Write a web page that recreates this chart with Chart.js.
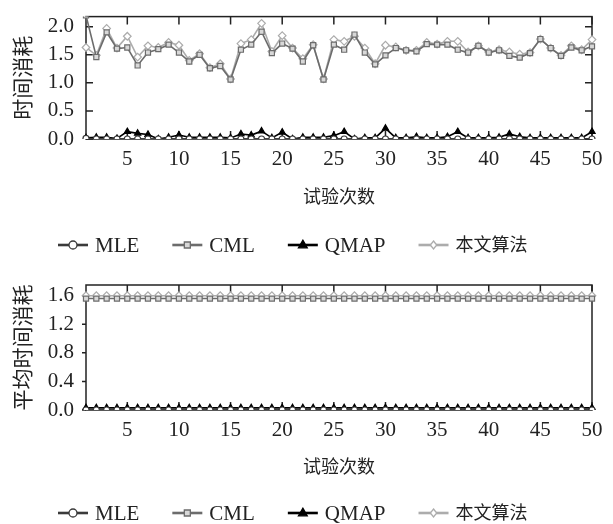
<!DOCTYPE html>
<html>
<head>
<meta charset="utf-8">
<script src="https://cdn.jsdelivr.net/npm/chart.js@4.4.1/dist/chart.umd.min.js"></script>
<style>
  html, body { margin: 0; padding: 0; background: #fff; }
  canvas { display: block; }
</style>
</head>
<body>
<canvas id="timeChart" width="613" height="262"></canvas>
<canvas id="avgChart" width="613" height="262"></canvas>
<script>
// trial index (x axis)
const trials = [1,2,3,4,5,6,7,8,9,10,11,12,13,14,15,16,17,18,19,20,21,22,23,24,25,
  26,27,28,29,30,31,32,33,34,35,36,37,38,39,40,41,42,43,44,45,46,47,48,49,50];

// per-trial time cost (top chart)
const mleTime = [0.01,0.00,0.00,0.00,0.00,0.00,0.00,0.00,0.00,0.00,0.00,0.00,0.00,0.00,0.00,0.00,0.00,0.00,0.00,0.00,0.00,0.00,0.00,0.00,0.00,
  0.00,0.00,0.00,0.00,0.00,0.00,0.00,0.00,0.00,0.00,0.00,0.00,0.00,0.00,0.00,0.00,0.00,0.00,0.00,0.00,0.00,0.00,0.00,0.00,0.00];
const cmlTime = [2.20,1.46,1.90,1.61,1.63,1.31,1.54,1.60,1.68,1.54,1.38,1.50,1.26,1.30,1.06,1.59,1.68,1.91,1.53,1.70,1.61,1.38,1.67,1.06,1.68,
  1.59,1.86,1.54,1.33,1.49,1.62,1.58,1.56,1.69,1.68,1.68,1.59,1.54,1.66,1.54,1.58,1.48,1.45,1.53,1.78,1.62,1.48,1.63,1.58,1.65];
const qmapTime = [0.02,0.03,0.03,0.01,0.13,0.10,0.08,0.00,0.03,0.07,0.03,0.03,0.03,0.03,0.02,0.09,0.07,0.14,0.02,0.12,0.00,0.03,0.03,0.03,0.06,
  0.13,0.00,0.02,0.02,0.19,0.02,0.02,0.04,0.02,0.02,0.04,0.13,0.02,0.02,0.02,0.03,0.09,0.04,0.02,0.02,0.02,0.02,0.02,0.02,0.13];
const oursTime = [1.63,1.49,1.97,1.62,1.83,1.46,1.66,1.63,1.72,1.67,1.40,1.52,1.27,1.34,1.07,1.70,1.77,2.06,1.56,1.84,1.62,1.43,1.68,1.07,1.77,
  1.74,1.83,1.62,1.34,1.67,1.64,1.58,1.58,1.72,1.69,1.74,1.74,1.55,1.66,1.55,1.59,1.55,1.51,1.54,1.78,1.62,1.49,1.66,1.59,1.77];

// average time cost (bottom chart)
const mleAvg = [0.00,0.00,0.00,0.00,0.00,0.00,0.00,0.00,0.00,0.00,0.00,0.00,0.00,0.00,0.00,0.00,0.00,0.00,0.00,0.00,0.00,0.00,0.00,0.00,0.00,
  0.00,0.00,0.00,0.00,0.00,0.00,0.00,0.00,0.00,0.00,0.00,0.00,0.00,0.00,0.00,0.00,0.00,0.00,0.00,0.00,0.00,0.00,0.00,0.00,0.00];
const cmlAvg = [1.56,1.56,1.56,1.56,1.56,1.56,1.56,1.56,1.56,1.56,1.56,1.56,1.56,1.56,1.56,1.56,1.56,1.56,1.56,1.56,1.56,1.56,1.56,1.56,1.56,
  1.56,1.56,1.56,1.56,1.56,1.56,1.56,1.56,1.56,1.56,1.56,1.56,1.56,1.56,1.56,1.56,1.56,1.56,1.56,1.56,1.56,1.56,1.56,1.56,1.56];
const qmapAvg = [0.03,0.03,0.03,0.03,0.03,0.03,0.03,0.03,0.03,0.03,0.03,0.03,0.03,0.03,0.03,0.03,0.03,0.03,0.03,0.03,0.03,0.03,0.03,0.03,0.03,
  0.03,0.03,0.03,0.03,0.03,0.03,0.03,0.03,0.03,0.03,0.03,0.03,0.03,0.03,0.03,0.03,0.03,0.03,0.03,0.03,0.03,0.03,0.03,0.03,0.03];
const oursAvg = [1.60,1.60,1.60,1.60,1.60,1.60,1.60,1.60,1.60,1.60,1.60,1.60,1.60,1.60,1.60,1.60,1.60,1.60,1.60,1.60,1.60,1.60,1.60,1.60,1.60,
  1.60,1.60,1.60,1.60,1.60,1.60,1.60,1.60,1.60,1.60,1.60,1.60,1.60,1.60,1.60,1.60,1.60,1.60,1.60,1.60,1.60,1.60,1.60,1.60,1.60];

const seriesNames = ["MLE", "CML", "QMAP", "本文算法"];

const FONT = "'Liberation Serif', 'Noto Sans CJK SC', serif";
const INK = "#222";

const styles = [
  { color: "#3a3a3a", fill: "#ffffff", point: "circle", r: 3 },
  { color: "#6c6c6c", fill: "#d8d8d8", point: "rect", r: 3.6 },
  { color: "#000000", fill: "#000000", point: "triangle", r: 3.6 },
  { color: "#acacac", fill: "#ffffff", point: "rectRot", r: 3.8 },
];

function makeDatasets(series) {
  return series.map((data, i) => ({
    label: seriesNames[i],
    data,
    borderColor: styles[i].color,
    borderWidth: 1.6,
    pointStyle: styles[i].point,
    pointRadius: styles[i].r,
    pointBorderColor: styles[i].color,
    pointBackgroundColor: styles[i].fill,
    pointBorderWidth: 1.2,
    tension: 0,
  }));
}

// small marker painter for the legend
function drawMarker(ctx, style, x, y, r) {
  ctx.beginPath();
  if (style === "circle") {
    ctx.arc(x, y, r, 0, Math.PI * 2);
  } else if (style === "rect") {
    ctx.rect(x - r * 0.75, y - r * 0.75, r * 1.5, r * 1.5);
  } else if (style === "triangle") {
    ctx.moveTo(x, y - r * 1.2);
    ctx.lineTo(x + r * 1.1, y + r * 0.7);
    ctx.lineTo(x - r * 1.1, y + r * 0.7);
    ctx.closePath();
  } else {
    ctx.moveTo(x, y - r);
    ctx.lineTo(x + r * 0.8, y);
    ctx.lineTo(x, y + r);
    ctx.lineTo(x - r * 0.8, y);
    ctx.closePath();
  }
  ctx.fill();
  ctx.stroke();
}

/* legend: line with marker, then label */
const lineLegend = {
  id: "lineLegend",
  afterDraw(chart, args, opts) {
    const ctx = chart.ctx;
    let x = opts.left;
    const y = opts.y;
    ctx.save();
    ctx.textBaseline = "middle";
    ctx.textAlign = "left";
    chart.data.datasets.forEach((ds, i) => {
      const st = styles[i];
      ctx.strokeStyle = st.color;
      ctx.lineWidth = 2.6;
      ctx.beginPath();
      ctx.moveTo(x, y);
      ctx.lineTo(x + 30, y);
      ctx.stroke();
      ctx.lineWidth = 1.3;
      ctx.fillStyle = st.fill;
      drawMarker(ctx, st.point, x + 15, y, 4);
      const cjk = /[\u4e00-\u9fff]/.test(ds.label);
      ctx.font = (cjk ? "18px " : "21px ") + FONT;
      ctx.fillStyle = INK;
      ctx.fillText(ds.label, x + 37, y + 1);
      x += 37 + ctx.measureText(ds.label).width + 33;
    });
    ctx.restore();
  },
};

/* box round the plot with inward ticks */
const frameTicks = {
  id: "frameTicks",
  beforeDatasetsDraw(chart, args, opts) {
    const { ctx, chartArea: a, scales: { x, y } } = chart;
    const L = 8;
    ctx.save();
    ctx.strokeStyle = INK;
    ctx.lineWidth = 1.5;
    ctx.strokeRect(a.left, a.top, a.right - a.left, a.bottom - a.top);
    ctx.beginPath();
    x.ticks.forEach((t) => {
      if (trials[t.value] % 5 !== 0) return;
      const px = x.getPixelForValue(t.value);
      ctx.moveTo(px, a.top);
      ctx.lineTo(px, a.top + L);
      ctx.moveTo(px, a.bottom);
      ctx.lineTo(px, a.bottom - L);
    });
    y.ticks.forEach((t) => {
      const py = y.getPixelForValue(t.value);
      if (opts.minorOnly && t.label !== "") {
        ctx.moveTo(a.left, py);
        ctx.lineTo(a.left - 4, py);
        return;
      }
      ctx.moveTo(a.left, py);
      ctx.lineTo(a.left + L - 1, py);
      ctx.moveTo(a.right, py);
      ctx.lineTo(a.right - L + 1, py);
    });
    ctx.stroke();
    ctx.restore();
  },
};

function buildOptions(cfg) {
  return {
    responsive: false,
    animation: false,
    devicePixelRatio: 1,
    layout: { padding: { left: 0, right: 21, top: cfg.top, bottom: cfg.bottom } },
    plugins: {
      legend: { display: false },
      tooltip: { enabled: false },
      lineLegend: { left: 58, y: cfg.legendY },
      frameTicks: { minorOnly: cfg.minorOnly },
    },
    scales: {
      x: {
        type: "category",
        grid: { display: false },
        border: { display: false },
        afterFit: (s) => { s.height = 80; },
        ticks: {
          autoSkip: false,
          maxRotation: 0,
          padding: cfg.xTickPad,
          color: INK,
          font: { family: FONT, size: 21 },
          callback: (v, i) => (trials[i] % 5 === 0 ? String(trials[i]) : ""),
        },
        title: {
          display: true,
          text: "试验次数",
          color: INK,
          font: { family: FONT, size: 18 },
          padding: { top: 0, bottom: cfg.xTitlePad },
        },
      },
      y: {
        min: 0,
        max: cfg.yMax,
        grid: { display: false },
        border: { display: false },
        afterFit: (s) => { s.width = 86; },
        ticks: {
          stepSize: cfg.yStep,
          includeBounds: false,
          padding: 4,
          color: INK,
          font: { family: FONT, size: 21 },
          callback: cfg.yLabel,
        },
        title: {
          display: true,
          text: cfg.yTitle,
          color: INK,
          font: { family: FONT, size: 21 },
          padding: { top: 12, bottom: 0 },
        },
      },
    },
  };
}

new Chart(document.getElementById("timeChart"), {
  type: "line",
  data: { labels: trials, datasets: makeDatasets([mleTime, cmlTime, qmapTime, oursTime]) },
  options: buildOptions({
    top: 14, bottom: 43, legendY: 245, xTickPad: 0, xTitlePad: 10,
    yMax: 2.18, yStep: 0.5, yTitle: "时间消耗", minorOnly: false,
    yLabel: (v) => v.toFixed(1),
  }),
  plugins: [frameTicks, lineLegend],
});

new Chart(document.getElementById("avgChart"), {
  type: "line",
  data: { labels: trials, datasets: makeDatasets([mleAvg, cmlAvg, qmapAvg, oursAvg]) },
  options: buildOptions({
    top: 23, bottom: 34, legendY: 251, xTickPad: 0, xTitlePad: 11,
    yMax: 1.75, yStep: 0.2, yTitle: "平均时间消耗", minorOnly: true,
    yLabel: (v) => (Math.round(v * 10) % 4 === 0 ? v.toFixed(1) : ""),
  }),
  plugins: [frameTicks, lineLegend],
});
</script>
</body>
</html>
